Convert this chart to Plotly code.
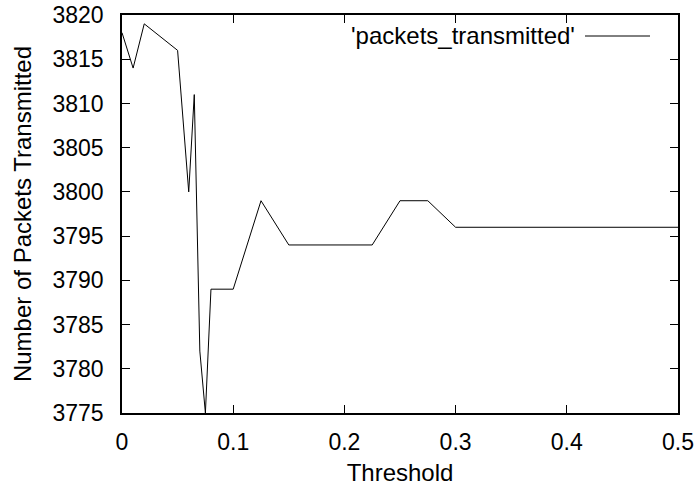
import plotly.graph_objects as go

threshold = [0, 0.01, 0.02, 0.05, 0.06, 0.065, 0.07, 0.075, 0.08, 0.1, 0.125,
             0.15, 0.225, 0.25, 0.275, 0.3, 0.5]
packets = [3818, 3814, 3819, 3816, 3800, 3811, 3782, 3775, 3789, 3789, 3799,
           3794, 3794, 3799, 3799, 3796, 3796]
x_ticks = [0, 0.1, 0.2, 0.3, 0.4, 0.5]
x_tick_labels = ["0", "0.1", "0.2", "0.3", "0.4", "0.5"]
y_ticks = list(range(3775, 3821, 5))
legend_label = "'packets_transmitted'"

FONT = "Liberation Sans, Arial, sans-serif"
FS_TICK = 23
FS = 24
L, R, T, B = 122, 678, 15, 413

fig = go.Figure()
fig.add_trace(go.Scatter(x=threshold, y=packets, mode="lines",
                         line=dict(color="black", width=1), showlegend=False))

axis_common = dict(showgrid=False, zeroline=False, showline=True, mirror="allticks",
                   linecolor="black", linewidth=1.5, ticks="inside", ticklen=8,
                   tickcolor="black", tickwidth=1, automargin=False,
                   tickfont=dict(family=FONT, size=FS_TICK, color="black"))

fig.update_xaxes(range=[0, 0.5], tickvals=x_ticks, ticktext=x_tick_labels,
                 title=dict(text="Threshold", font=dict(family=FONT, size=FS, color="black"),
                            standoff=10),
                 ticklabelstandoff=8, **axis_common)
fig.update_yaxes(range=[3775, 3820], tickvals=y_ticks,
                 title=dict(text="Number of Packets Transmitted",
                            font=dict(family=FONT, size=FS, color="black"), standoff=14),
                 ticklabelstandoff=12, **axis_common)

# legend (text then line sample, gnuplot style)
ly = 1 - (36 - T) / (B - T)
fig.add_annotation(xref="paper", yref="paper", x=(577 - L) / (R - L), y=ly,
                   text=legend_label, showarrow=False, xanchor="right", yanchor="middle",
                   font=dict(family=FONT, size=FS, color="black"))
fig.add_shape(type="line", xref="paper", yref="paper",
              x0=(585 - L) / (R - L), x1=(650 - L) / (R - L), y0=ly, y1=ly,
              line=dict(color="black", width=1))

fig.update_layout(width=697, height=487, margin=dict(l=L, r=697 - R, t=T, b=487 - B),
                  template="none",
                  plot_bgcolor="white", paper_bgcolor="white",
                  font=dict(family=FONT, size=FS, color="black"))

fig.write_html("out.html")
